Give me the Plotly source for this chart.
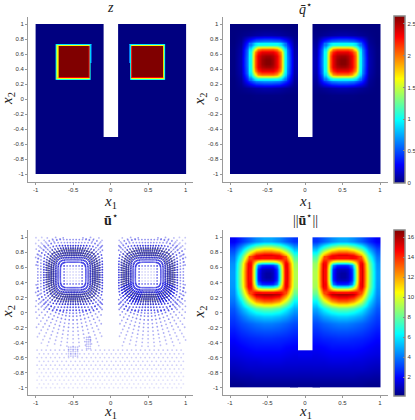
import math
import plotly.graph_objects as go

# tick labels
x_ticks = [-1, -0.5, 0, 0.5, 1]
x_labels = ["-1", "-0.5", "0", "0.5", "1"]
y_ticks = [-1, -0.8, -0.6, -0.4, -0.2, 0, 0.2, 0.4, 0.6, 0.8, 1]
y_labels = ["-1", "-0.8", "-0.6", "-0.4", "-0.2", "0", "0.2", "0.4", "0.6", "0.8", "1"]
q_bar_ticks = [0, 0.5, 1, 1.5, 2, 2.5]
q_bar_labels = ["0", "0.5", "1", "1.5", "2", "2.5"]
u_bar_ticks = [2, 4, 6, 8, 10, 12, 14, 16]

# z: design field, cell edges and values for the left half (mirrored for the right)
z_edges_x = [-1, -0.728, -0.715, -0.70, -0.288, -0.275, -0.261, -0.248, -0.1]
z_edges_y = [1, 0.733, 0.72, 0.707, 0.48, 0.293, 0.28, 0.267, 0.253, -1]
z_left = [
    [0, 0, 0, 0, 0, 0, 0, 0],
    [0, 0.35, 0.38, 0.35, 0.35, 0.35, 0.3, 0],
    [0, 0.4, 0.6, 0.62, 0.6, 0.38, 0.25, 0],
    [0, 0.38, 0.62, 1, 0.87, 0.38, 0.25, 0],
    [0, 0.38, 0.62, 1, 0.87, 0.4, 0, 0],
    [0, 0.4, 0.65, 0.87, 0.87, 0.4, 0, 0],
    [0, 0.45, 0.6, 0.6, 0.6, 0.4, 0, 0],
    [0, 0.35, 0.42, 0.4, 0.4, 0.35, 0, 0],
    [0, 0, 0, 0, 0, 0, 0, 0],
]

# sample positions for the smooth fields (cell centres, left block)
left_x = [-0.95, -0.85, -0.75, -0.65, -0.55, -0.45, -0.35, -0.25, -0.15]
rows_y = [0.95, 0.85, 0.75, 0.65, 0.55, 0.45, 0.35, 0.25, 0.15, 0.05, -0.05,
          -0.15, -0.25, -0.35, -0.45, -0.55, -0.65, -0.75, -0.85, -0.95]
slot_x = [-0.15, -0.05, 0.05, 0.15]
# first rows differ by a hair so each block lands on the same pixel row as its neighbours
slot_y_q = [-0.5545, -0.65, -0.75, -0.85, -0.95]
slot_y_u = [-0.5519, -0.65, -0.75, -0.85, -0.95]
# finer samples round each vortex centre
eye_offsets = [-0.225, -0.175, -0.125, -0.075, -0.025, 0.025, 0.075, 0.125, 0.175, 0.225]

q_left = [
    [0, 0, 0, 0.01, 0.01, 0.01, 0.01, 0, 0],
    [0, 0.02, 0.05, 0.08, 0.1, 0.1, 0.08, 0.05, 0.02],
    [0, 0.06, 0.45, 0.72, 0.78, 0.78, 0.72, 0.45, 0.06],
    [0.01, 0.1, 0.72, 2.1, 2.3, 2.3, 2.1, 0.72, 0.1],
    [0.01, 0.12, 0.78, 2.3, 2.62, 2.62, 2.3, 0.78, 0.12],
    [0.01, 0.12, 0.78, 2.3, 2.62, 2.62, 2.3, 0.78, 0.12],
    [0.01, 0.1, 0.72, 2.1, 2.3, 2.3, 2.1, 0.72, 0.1],
    [0, 0.06, 0.45, 0.72, 0.78, 0.78, 0.72, 0.45, 0.06],
    [0, 0.02, 0.05, 0.08, 0.1, 0.1, 0.08, 0.05, 0.02],
    [0, 0, 0, 0.01, 0.01, 0.01, 0.01, 0, 0],
    [0, 0, 0, 0, 0, 0, 0, 0, 0],
    [0, 0, 0, 0, 0, 0, 0, 0, 0],
    [0, 0, 0, 0, 0, 0, 0, 0, 0],
    [0, 0, 0, 0, 0, 0, 0, 0, 0],
    [0, 0, 0, 0, 0, 0, 0, 0, 0],
    [0, 0, 0, 0, 0, 0, 0, 0, 0],
    [0, 0, 0, 0, 0, 0, 0, 0, 0],
    [0, 0, 0, 0, 0, 0, 0, 0, 0],
    [0, 0, 0, 0, 0, 0, 0, 0, 0],
    [0, 0, 0, 0, 0, 0, 0, 0, 0],
]
q_slot = [[0, 0, 0, 0], [0, 0, 0, 0], [0, 0, 0, 0], [0, 0, 0, 0], [0, 0, 0, 0]]
q_eye = [
    [0.6, 0.9, 1.0, 1.0, 1.0, 1.0, 1.0, 1.0, 0.9, 0.6],
    [0.9, 1.5, 1.9, 2.0, 2.0, 2.0, 2.0, 1.9, 1.5, 0.9],
    [1.0, 1.9, 2.2, 2.35, 2.35, 2.35, 2.35, 2.2, 1.9, 1.0],
    [1.0, 2.0, 2.35, 2.5, 2.55, 2.55, 2.5, 2.35, 2.0, 1.0],
    [1.0, 2.0, 2.35, 2.55, 2.62, 2.62, 2.55, 2.35, 2.0, 1.0],
    [1.0, 2.0, 2.35, 2.55, 2.62, 2.62, 2.55, 2.35, 2.0, 1.0],
    [1.0, 2.0, 2.35, 2.5, 2.55, 2.55, 2.5, 2.35, 2.0, 1.0],
    [1.0, 1.9, 2.2, 2.35, 2.35, 2.35, 2.35, 2.2, 1.9, 1.0],
    [0.9, 1.5, 1.9, 2.0, 2.0, 2.0, 2.0, 1.9, 1.5, 0.9],
    [0.6, 0.9, 1.0, 1.0, 1.0, 1.0, 1.0, 1.0, 0.9, 0.6],
]

u_left = [
    [1.8, 2.6, 3.5, 4.3, 4.8, 4.8, 4.3, 3.5, 2.8],
    [3, 4.8, 7.5, 9.5, 10.5, 10.5, 9.5, 7.5, 5],
    [3.9, 7.2, 12.5, 15.5, 16, 16, 15.5, 12.5, 7.5],
    [4.4, 8.8, 15.5, 9.5, 6, 6, 9.5, 15.5, 8.8],
    [4.6, 9.2, 15.8, 6.5, 1, 1, 6.5, 15.8, 9.2],
    [4.6, 9.2, 15.8, 6.5, 1, 1, 6.5, 15.8, 9.2],
    [4.5, 9, 15.5, 9.5, 6, 6, 9.5, 15.5, 9],
    [4.3, 7.8, 13, 16, 16.4, 16.4, 16, 13, 8],
    [3.9, 6, 9.5, 12, 13, 13, 12, 9.5, 6.2],
    [3.4, 4.8, 6.3, 7.5, 8, 8, 7.5, 6.3, 4.9],
    [3, 3.8, 4.7, 5.2, 5.5, 5.5, 5.2, 4.7, 3.9],
    [2.7, 3.2, 3.6, 3.9, 4.1, 4.1, 3.9, 3.6, 3.2],
    [2.3, 2.7, 3, 3.2, 3.3, 3.3, 3.2, 3, 2.7],
    [2, 2.3, 2.5, 2.6, 2.7, 2.7, 2.6, 2.5, 2.3],
    [1.7, 1.9, 2.1, 2.2, 2.2, 2.2, 2.2, 2, 1.9],
    [1.5, 1.6, 1.7, 1.8, 1.8, 1.8, 1.8, 1.7, 1.6],
    [1.2, 1.3, 1.4, 1.4, 1.5, 1.5, 1.5, 1.4, 1.4],
    [0.9, 1, 1.1, 1.1, 1.1, 1.1, 1.1, 1.1, 1.1],
    [0.6, 0.7, 0.7, 0.8, 0.8, 0.8, 0.8, 0.8, 0.8],
    [0.3, 0.3, 0.4, 0.4, 0.4, 0.4, 0.4, 0.4, 0.4],
]
u_slot = [[1.7, 1.7, 1.7, 1.7], [1.4, 1.4, 1.4, 1.4], [1.1, 1.1, 1.1, 1.1],
          [0.8, 0.8, 0.8, 0.8], [0.4, 0.4, 0.4, 0.4]]
u_eye = [
    [13.5, 14.5, 14.7, 14.5, 14.5, 14.5, 14.5, 14.7, 14.5, 13.5],
    [14.5, 11.5, 9.5, 8.6, 8.5, 8.5, 8.6, 9.5, 11.5, 14.5],
    [14.7, 9.5, 4.2, 2.7, 2.5, 2.5, 2.7, 4.2, 9.5, 14.7],
    [14.5, 8.6, 2.7, 1.2, 1, 1, 1.2, 2.7, 8.6, 14.5],
    [14.5, 8.5, 2.5, 1, 0.6, 0.6, 1, 2.5, 8.5, 14.5],
    [14.5, 8.5, 2.5, 1, 0.6, 0.6, 1, 2.5, 8.5, 14.5],
    [14.5, 8.6, 2.7, 1.2, 1, 1, 1.2, 2.7, 8.6, 14.5],
    [14.7, 9.5, 4.2, 2.7, 2.5, 2.5, 2.7, 4.2, 9.5, 14.7],
    [14.5, 11.5, 9.5, 8.6, 8.5, 8.5, 8.6, 9.5, 11.5, 14.5],
    [13.5, 14.5, 14.7, 14.5, 14.5, 14.5, 14.5, 14.7, 14.5, 13.5],
]

# quiver mesh: rays round each vortex, a small patch inside it, a plain grid below
eye_x = [-0.5, 0.5]
eye_y = 0.5
ray_angles = [0, 5, 10, 15, 20, 25, 30, 35, 40, 45, 50, 55, 60, 65, 70, 75, 80, 85, 90, 95, 100,
              105, 110, 115, 120, 125, 130, 135, 140, 145, 150, 155, 160, 165, 170, 175, 180,
              185, 190, 195, 200, 205, 210, 215, 220, 225, 230, 235, 240, 245, 250, 255, 260,
              265, 270, 275, 280, 285, 290, 295, 300, 305, 310, 315, 320, 325, 330, 335, 340,
              345, 350, 355]
ray_radii = [0.17, 0.2, 0.23, 0.26, 0.29, 0.32, 0.355, 0.39, 0.43, 0.47, 0.51, 0.55, 0.6, 0.65,
             0.7, 0.75, 0.8, 0.85, 0.9, 0.95, 1.0, 1.05]
hole_offsets = [-0.12, -0.08, -0.04, 0, 0.04, 0.08, 0.12]
mesh_x = [-1, -0.94, -0.88, -0.82, -0.76, -0.7, -0.64, -0.58, -0.52, -0.46, -0.4, -0.34, -0.28,
          -0.22, -0.16, -0.1, -0.04, 0.02, 0.08, 0.14, 0.2, 0.26, 0.32, 0.38, 0.44, 0.5, 0.56,
          0.62, 0.68, 0.74, 0.8, 0.86, 0.92]
mesh_y = [-1, -0.95, -0.9, -0.85, -0.8, -0.75, -0.7, -0.65, -0.6, -0.55, -0.5]
patch_a_x = [-0.56, -0.53, -0.5, -0.47, -0.44]
patch_a_y = [-0.58, -0.55, -0.52, -0.49, -0.46]
patch_b_x = [-0.32, -0.295, -0.27]
patch_b_y = [-0.48, -0.45, -0.42, -0.39, -0.36, -0.33]
ring_dx = [-0.4, 0.4, 0.8, 1, 1, 0.8, 0.4, -0.4, -0.8, -1, -1, -0.8, -0.4]
ring_dy = [1, 1, 0.85, 0.4, -0.4, -0.85, -1, -1, -0.85, -0.4, 0.4, 0.85, 1]
ring_sizes = [0.335, 0.295, 0.265]

jet = [[0, "#000080"], [0.11, "#0000ff"], [0.375, "#00ffff"], [0.625, "#ffff00"],
       [0.875, "#ff0000"], [1, "#800000"]]


def in_domain(x, y):
    if abs(x) > 1 or abs(y) > 1:
        return False
    return not (abs(x) < 0.1 and y > -0.5)


def speed_at(x, y):
    # nearest entry of the magnitude table, mirrored for the right half
    col = min(range(len(left_x)), key=lambda i: abs(left_x[i] + abs(x)))
    row = min(range(len(rows_y)), key=lambda i: abs(rows_y[i] - y))
    return u_left[row][col]


fig = go.Figure()


def add_field(left, slot, slot_y, eye, axis_x, axis_y, coloraxis):
    right = [r[::-1] for r in left]
    right_x = [-v for v in left_x[::-1]]
    for xs, ys, zs in ((slot_x, slot_y, slot), (left_x, rows_y, left), (right_x, rows_y, right)):
        fig.add_trace(go.Heatmap(x=xs, y=ys, z=zs, xaxis=axis_x, yaxis=axis_y,
                                 zsmooth="best", coloraxis=coloraxis, hoverinfo="skip"))
    for cx in eye_x:
        fig.add_trace(go.Heatmap(x=[cx + v for v in eye_offsets], y=[eye_y + v for v in eye_offsets],
                                 z=eye, xaxis=axis_x, yaxis=axis_y,
                                 zsmooth="best", coloraxis=coloraxis, hoverinfo="skip"))


# panel 1
z_right = [r[::-1] for r in z_left]
z_right_edges = [-v for v in z_edges_x[::-1]]
fig.add_trace(go.Heatmap(x=[-0.2, 0.2], y=[-1, -0.5067], z=[[0]], xaxis="x", yaxis="y",
                         coloraxis="coloraxis3", hoverinfo="skip"))
for xs, zs in ((z_edges_x, z_left), (z_right_edges, z_right)):
    fig.add_trace(go.Heatmap(x=xs, y=z_edges_y, z=zs, xaxis="x", yaxis="y",
                             coloraxis="coloraxis3", hoverinfo="skip"))

# panels 2 and 4
add_field(q_left, q_slot, slot_y_q, q_eye, "x2", "y2", "coloraxis")
add_field(u_left, u_slot, slot_y_u, u_eye, "x4", "y4", "coloraxis2")

# panel 3: mesh dots and arrow shafts
dots_x, dots_y, dots_a = [], [], []
stroke_x, stroke_y = [], []
strong_x, strong_y = [], []


def add_dot(x, y):
    if in_domain(x, y):
        dots_x.append(x)
        dots_y.append(y)
        dots_a.append(min(0.9, 0.1 + speed_at(x, y) / 12))


for cx in eye_x:
    for a in ray_angles:
        ca, sa = math.cos(math.radians(a)), math.sin(math.radians(a))
        # rays end on rounded squares close to the vortex
        bend = (abs(ca) ** 5 + abs(sa) ** 5) ** 0.2
        for r in ray_radii:
            k = r / bend if r < 0.5 else r
            px, py = cx + k * ca, eye_y + k * sa
            if px * cx < 0 or py < -0.45:
                continue
            add_dot(px, py)
            if 0.19 < r < 0.33 and in_domain(px, py):
                s = speed_at(px, py) * 0.006
                # the right vortex is bluer along its lower corners
                if cx > 0 and (205 <= a <= 250 or 295 <= a <= 335):
                    strong_x += [px, px + s * ca, None]
                    strong_y += [py, py + s * sa, None]
                else:
                    stroke_x += [px, px + s * ca, None]
                    stroke_y += [py, py + s * sa, None]
    for ox in hole_offsets:
        for oy in hole_offsets:
            add_dot(cx + ox, eye_y + oy)
for row, my in enumerate(mesh_y):
    for mx in mesh_x:
        add_dot(mx + (0.05 if row % 2 else 0.02), my)
for px_list, py_list in ((patch_a_x, patch_a_y), (patch_b_x, patch_b_y)):
    for mx in px_list:
        for my in py_list:
            add_dot(mx, my)

fig.add_trace(go.Scatter(x=dots_x, y=dots_y, mode="markers", xaxis="x3", yaxis="y3",
                         marker=dict(color="#2020e0", size=1.8, opacity=dots_a, line=dict(width=0)),
                         hoverinfo="skip", showlegend=False))
fig.add_trace(go.Scatter(x=stroke_x, y=stroke_y, mode="lines", xaxis="x3", yaxis="y3",
                         line=dict(color="rgba(70,70,140,0.45)", width=0.7),
                         hoverinfo="skip", showlegend=False))
fig.add_trace(go.Scatter(x=strong_x, y=strong_y, mode="lines", xaxis="x3", yaxis="y3",
                         line=dict(color="rgba(20,20,220,0.65)", width=0.9),
                         hoverinfo="skip", showlegend=False))
for cx in eye_x:
    for size in ring_sizes:
        fig.add_trace(go.Scatter(x=[cx + size * v for v in ring_dx],
                                 y=[eye_y + size * v for v in ring_dy],
                                 mode="lines", xaxis="x3", yaxis="y3",
                                 line=dict(color="rgba(40,40,90,0.6)", width=0.8),
                                 hoverinfo="skip", showlegend=False))

W, H = 415, 420
tick_font = dict(family="Liberation Sans", size=6, color="#333333")
label_font = dict(family="Liberation Serif", size=15, color="#222222")
title_font = dict(family="Liberation Serif", size=14, color="#222222")


def dom_x(a, b):
    return [a / W, b / W]


def dom_y(top, bottom):
    return [1 - bottom / H, 1 - top / H]


def x_axis(domain, anchor):
    return dict(domain=domain, anchor=anchor, range=[-1.1, 1.1], tickvals=x_ticks,
                ticktext=x_labels, ticks="outside", ticklen=2, tickcolor="#999999",
                tickfont=tick_font, showline=True, linecolor="#999999", linewidth=1,
                showgrid=False, zeroline=False)


def y_axis(domain, anchor):
    return dict(domain=domain, anchor=anchor, range=[-1.1, 1.1], tickvals=y_ticks,
                ticktext=y_labels, ticks="outside", ticklen=2, tickcolor="#999999",
                tickfont=tick_font, showline=True, linecolor="#999999", linewidth=1,
                showgrid=False, zeroline=False)


def bar(top, bottom):
    return dict(x=393.3 / W, xanchor="left", xref="paper", thickness=11, thicknessmode="pixels",
                y=1 - bottom / H, yanchor="bottom", yref="paper", len=(bottom - top) / H,
                lenmode="fraction", outlinecolor="#888888", outlinewidth=1.5,
                ticks="inside", ticklen=2, tickcolor="#888888", tickfont=tick_font, ypad=0, xpad=1)


# text, centre x, centre y, rotation
texts = [
    ("<i>z</i>", 110.6, 7, 0, title_font),
    ("<i>q̄</i><sup>⋆</sup>", 305, 8, 0, title_font),
    ("<b>ū</b><sup>⋆</sup>", 110.6, 219, 0, title_font),
    ("||<b>ū</b><sup>⋆</sup>||", 305, 219, 0, title_font),
    ("<i>x</i><sub>1</sub>", 110.6, 202, 0, label_font),
    ("<i>x</i><sub>1</sub>", 305, 202, 0, label_font),
    ("<i>x</i><sub>1</sub>", 110.6, 412, 0, label_font),
    ("<i>x</i><sub>1</sub>", 305, 412, 0, label_font),
    ("<i>x</i><sub>2</sub>", 8, 99, -90, label_font),
    ("<i>x</i><sub>2</sub>", 199.5, 99, -90, label_font),
    ("<i>x</i><sub>2</sub>", 8, 312, -90, label_font),
    ("<i>x</i><sub>2</sub>", 199.5, 312, -90, label_font),
]

fig.update_layout(
    width=W, height=H, margin=dict(l=0, r=0, t=0, b=0, autoexpand=False),
    paper_bgcolor="white", plot_bgcolor="white", showlegend=False,
    xaxis=x_axis(dom_x(28.1, 193.1), "y"), yaxis=y_axis(dom_y(16.5, 181.5), "x"),
    xaxis2=x_axis(dom_x(222.5, 387.5), "y2"), yaxis2=y_axis(dom_y(16.5, 181.5), "x2"),
    xaxis3=x_axis(dom_x(28.1, 193.1), "y3"), yaxis3=y_axis(dom_y(229.8, 395.2), "x3"),
    xaxis4=x_axis(dom_x(222.5, 387.5), "y4"), yaxis4=y_axis(dom_y(229.8, 395.2), "x4"),
    coloraxis=dict(colorscale=jet, cmin=0, cmax=2.63,
                   colorbar=dict(bar(16, 182.7), tickvals=q_bar_ticks, ticktext=q_bar_labels)),
    coloraxis2=dict(colorscale=jet, cmin=0.1, cmax=16.7,
                    colorbar=dict(bar(230, 396), tickvals=u_bar_ticks)),
    coloraxis3=dict(colorscale=jet, cmin=0, cmax=1, showscale=False),
    annotations=[dict(text=t, x=px / W, y=1 - py / H, xref="paper", yref="paper",
                      xanchor="center", yanchor="middle", textangle=rot,
                      showarrow=False, font=font)
                 for t, px, py, rot, font in texts],
)

fig.write_html("out.html", config={"displayModeBar": False},
               post_script="document.body.style.margin='0';")
